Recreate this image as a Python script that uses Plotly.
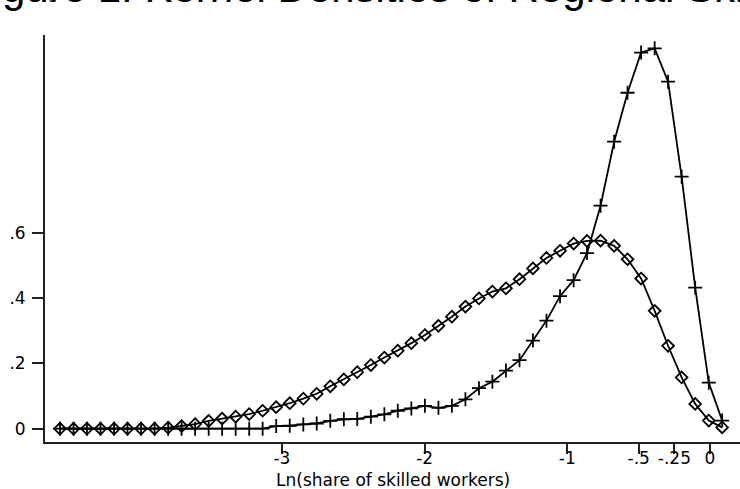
import plotly.graph_objects as go

# Evaluation grid (Ln share of skilled workers), 50 kdensity points
x_grid = [-4.555, -4.460, -4.366, -4.271, -4.176, -4.082, -3.987, -3.892, -3.797, -3.703,
          -3.608, -3.513, -3.419, -3.324, -3.229, -3.135, -3.040, -2.945, -2.850, -2.756,
          -2.661, -2.566, -2.472, -2.377, -2.282, -2.188, -2.093, -1.998, -1.903, -1.809,
          -1.714, -1.619, -1.525, -1.430, -1.335, -1.241, -1.146, -1.051, -0.956, -0.862,
          -0.767, -0.672, -0.578, -0.483, -0.388, -0.294, -0.199, -0.104, -0.009, 0.085]

# Density, diamond series
dens_diamond = [0, 0, 0, 0, 0, 0, 0, 0, 0.003, 0.008,
                0.014, 0.024, 0.031, 0.037, 0.045, 0.055, 0.066, 0.078, 0.092, 0.107,
                0.130, 0.151, 0.173, 0.195, 0.218, 0.239, 0.262, 0.287, 0.315, 0.343,
                0.374, 0.399, 0.420, 0.430, 0.458, 0.491, 0.523, 0.545, 0.567, 0.575,
                0.576, 0.560, 0.519, 0.460, 0.361, 0.254, 0.157, 0.076, 0.025, 0.004]

# Density, plus series
dens_plus = [0, 0, 0, 0, 0, 0, 0, 0, 0, 0,
             0, 0, 0, 0, 0, 0, 0.008, 0.009, 0.013, 0.016,
             0.024, 0.029, 0.030, 0.037, 0.044, 0.055, 0.062, 0.070, 0.064, 0.070,
             0.090, 0.124, 0.144, 0.178, 0.210, 0.270, 0.331, 0.406, 0.455, 0.538,
             0.683, 0.879, 1.029, 1.152, 1.165, 1.063, 0.772, 0.432, 0.141, 0.025]

x_tick_vals = [-3, -2, -1, -0.5, -0.25, 0]
x_tick_text = ["-3", "-2", "-1", "-.5", "-.25", "0"]
y_tick_vals = [0, 0.2, 0.4, 0.6]
y_tick_text = ["0", ".2", ".4", ".6"]

fig = go.Figure()
fig.add_trace(go.Scatter(
    x=x_grid, y=dens_diamond, mode="lines+markers",
    line=dict(color="black", width=1.8),
    marker=dict(symbol="diamond-open", size=9, color="black", line=dict(width=1.8, color="black")),
    showlegend=False))
fig.add_trace(go.Scatter(
    x=x_grid, y=dens_plus, mode="lines+markers",
    line=dict(color="black", width=1.8),
    marker=dict(symbol="cross-thin-open", size=10, color="black", line=dict(width=1.8, color="black")),
    showlegend=False))

tick_font = dict(family="DejaVu Sans", size=17, color="black")
title_font = dict(family="DejaVu Sans", size=17, color="black")

fig.update_xaxes(range=[-4.660, 0.210], showgrid=False, zeroline=False,
                 showline=True, linecolor="#222", linewidth=1.8,
                 ticks="outside", ticklen=10, tickwidth=1.8, tickcolor="#222",
                 tickvals=x_tick_vals, ticktext=x_tick_text, tickfont=tick_font,
                 ticklabelstandoff=-10)
fig.update_yaxes(range=[-0.0407, 1.2058], showgrid=False, zeroline=False,
                 showline=True, linecolor="#222", linewidth=1.8,
                 ticks="outside", ticklen=11, tickwidth=1.8, tickcolor="#222",
                 tickvals=y_tick_vals, ticktext=y_tick_text, tickfont=tick_font,
                 ticklabelstandoff=3)

fig.add_annotation(text="Ln(share of skilled workers)", xref="paper", yref="paper",
                   x=0.5, y=-0.063, xanchor="center", yanchor="top", showarrow=False,
                   font=title_font)
fig.add_annotation(text="Figure 1a", xref="paper", yref="paper",
                   x=-0.016, y=1.077, xanchor="left", yanchor="bottom", showarrow=False,
                   font=dict(family="Liberation Sans", size=15, color="black"))
fig.add_annotation(text="Figure 1: Kernel Densities of Regional Skill Shares", xref="paper", yref="paper",
                   x=-0.115, y=1.054, xanchor="left", yanchor="bottom", showarrow=False,
                   font=dict(family="Liberation Sans", size=42, color="black"))

fig.update_layout(width=740, height=489, margin=dict(l=45, r=0, t=35, b=47),
                  plot_bgcolor="white", paper_bgcolor="white")

fig.write_html("out.html")
